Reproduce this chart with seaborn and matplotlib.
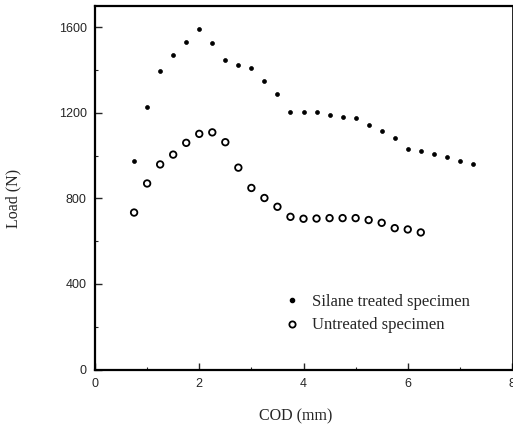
import matplotlib
matplotlib.use("Agg")
import matplotlib.pyplot as plt
import seaborn as sns
import pandas as pd
from matplotlib.ticker import MultipleLocator
from matplotlib.lines import Line2D

silane_x = [0.75, 1.0, 1.25, 1.5, 1.75, 2.0, 2.25, 2.5, 2.75, 3.0, 3.25, 3.5, 3.75,
            4.0, 4.25, 4.5, 4.75, 5.0, 5.25, 5.5, 5.75, 6.0, 6.25, 6.5, 6.75, 7.0, 7.25]
silane_y = [973, 1227, 1395, 1469, 1531, 1591, 1525, 1446, 1422, 1408, 1349, 1288, 1206,
            1203, 1203, 1191, 1180, 1174, 1142, 1117, 1085, 1030, 1024, 1008, 995, 975, 963]

untreated_x = [0.75, 1.0, 1.25, 1.5, 1.75, 2.0, 2.25, 2.5, 2.75, 3.0, 3.25, 3.5,
               3.75, 4.0, 4.25, 4.5, 4.75, 5.0, 5.25, 5.5, 5.75, 6.0, 6.25]
untreated_y = [734, 870, 959, 1005, 1060, 1102, 1109, 1063, 944, 849, 802, 761,
               714, 705, 706, 708, 708, 708, 699, 686, 661, 655, 641]

labels = ["Silane treated specimen", "Untreated specimen"]
x_ticks = [0, 2, 4, 6, 8]
y_ticks = [0, 400, 800, 1200, 1600]

sns.set_style("ticks")

fig = plt.figure(figsize=(5.13, 4.29), dpi=100)
ax = fig.add_axes([95 / 513, 1 - 369.5 / 429, 417 / 513, 363.5 / 429])

df_s = pd.DataFrame({"x": silane_x, "y": silane_y})
df_u = pd.DataFrame({"x": untreated_x, "y": untreated_y})

sns.scatterplot(data=df_s, x="x", y="y", ax=ax, marker="o", s=8,
                color="black", edgecolor="black", linewidth=0.5)
sns.scatterplot(data=df_u, x="x", y="y", ax=ax, marker="o", s=22,
                facecolor="none", edgecolor="black", linewidth=1.3)

ax.set_xlim(0, 8)
ax.set_ylim(0, 1700)
ax.set_xticks(x_ticks)
ax.set_yticks(y_ticks)
ax.xaxis.set_minor_locator(MultipleLocator(1))
ax.yaxis.set_minor_locator(MultipleLocator(200))
ax.tick_params(which="major", direction="in", length=5, width=1.0,
               labelsize=9, pad=6)
ax.tick_params(which="minor", direction="in", length=2.5, width=0.8)
for lab in ax.get_xticklabels() + ax.get_yticklabels():
    lab.set_family("Liberation Sans")
for side in ["left", "bottom", "top", "right"]:
    ax.spines[side].set_visible(True)
    ax.spines[side].set_color("black")
ax.spines["left"].set_linewidth(1.6)
ax.spines["bottom"].set_linewidth(1.6)
ax.spines["top"].set_linewidth(1.6)
ax.spines["right"].set_linewidth(0.6)

ax.set_xlabel("COD (mm)", family="Liberation Serif", fontsize=11.5)
ax.set_ylabel("Load (N)", family="Liberation Serif", fontsize=11.5)
ax.xaxis.set_label_coords(0.482, -0.108)
ax.yaxis.set_label_coords(-0.177, 0.47)

handles = [
    Line2D([], [], linestyle="none", marker="o", markersize=3, color="black"),
    Line2D([], [], linestyle="none", marker="o", markersize=4.5,
           markerfacecolor="none", markeredgecolor="black", markeredgewidth=1.3),
]
leg = ax.legend(handles, labels, loc="upper left", bbox_to_anchor=(0.425, 0.24),
                frameon=False, prop={"family": "Liberation Serif", "size": 12},
                handlelength=1.0, handletextpad=0.7, labelspacing=0.45,
                borderaxespad=0.3)

fig.savefig("out.png", dpi=100)
